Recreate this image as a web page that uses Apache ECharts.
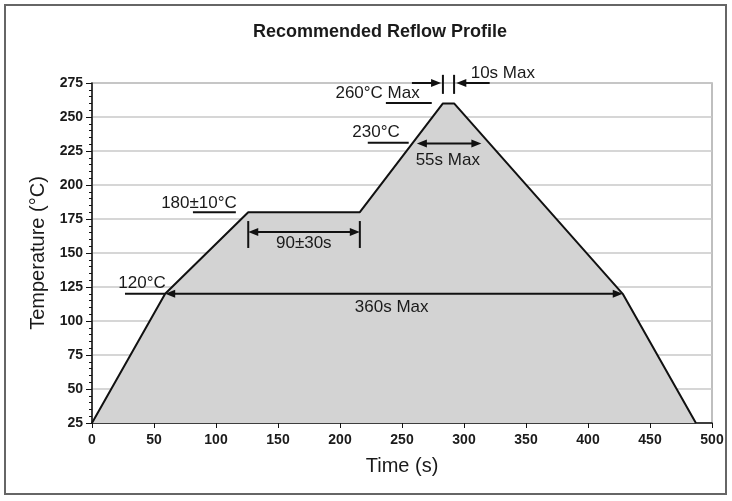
<!DOCTYPE html>
<html>
<head>
<meta charset="utf-8">
<script src="https://cdn.jsdelivr.net/npm/echarts@6/dist/echarts.min.js"></script>
<style>
html,body{margin:0;padding:0;background:#fff;}
#chart{width:732px;height:501px;}
</style>
</head>
<body>
<div id="chart"></div>
<script>
// Reflow profile (time s, temperature °C)
const times = [0, 59, 126, 216, 283, 292, 428, 487];
const temps = [25, 120, 180, 180, 260, 260, 120, 25];

// Axis ticks
const xTicks = [0, 50, 100, 150, 200, 250, 300, 350, 400, 450, 500];
const yTicks = [25, 50, 75, 100, 125, 150, 175, 200, 225, 250, 275];

// Annotation geometry in data units [t1, T1, t2, T2]
const underlines = [
  [26.6, 120, 58.8, 120],
  [81.4, 180, 116, 180],
  [222.4, 231, 255.4, 231],
  [237, 260.3, 274, 260.3]
];
const doubleArrows = [
  [59, 120, 428, 120],
  [126, 165.4, 216, 165.4],
  [262, 230.5, 314, 230.5]
];
const singleArrows = [
  [258, 275, 281.5, 275],
  [320.7, 275, 293.8, 275]
];
const bars = [
  [126, 153.7, 126, 173.5],
  [216, 153.7, 216, 173.5],
  [283, 267, 283, 281],
  [292, 267, 292, 281]
];
const labelTexts = ['120°C', '180±10°C', '90±30s', '360s Max', '230°C', '55s Max', '260°C Max', '10s Max'];
const labelT = [59.5, 116.8, 170.8, 241.7, 248.2, 286.9, 264.3, 305.4];
const labelTemp = [128, 186.8, 157.4, 110.3, 239, 218.4, 267.6, 282.4];
const labelAlign = ['right', 'right', 'center', 'center', 'right', 'center', 'right', 'left'];

const chart = echarts.init(document.getElementById('chart'));
const INK = '#111';
const FONT = '"Liberation Sans", Arial, sans-serif';

function segRender(params, api) {
  const a = api.coord([api.value(0), api.value(1)]);
  const b = api.coord([api.value(2), api.value(3)]);
  return {type: 'line', shape: {x1: a[0], y1: a[1], x2: b[0], y2: b[1]},
          style: {stroke: INK, lineWidth: 2}};
}
function head(tip, dirX, dirY) {
  const L = 10, W = 4;
  const bx = tip[0] - dirX * L, by = tip[1] - dirY * L;
  const nx = -dirY, ny = dirX;
  return {type: 'polygon', shape: {points: [tip, [bx + nx * W, by + ny * W], [bx - nx * W, by - ny * W]]},
          style: {fill: INK}};
}
function arrowRender(both) {
  return function (params, api) {
    const a = api.coord([api.value(0), api.value(1)]);
    const b = api.coord([api.value(2), api.value(3)]);
    const dx = b[0] - a[0], dy = b[1] - a[1];
    const len = Math.sqrt(dx * dx + dy * dy) || 1;
    const ux = dx / len, uy = dy / len;
    const children = [
      {type: 'line', shape: {x1: a[0] + (both ? ux * 6 : 0), y1: a[1] + (both ? uy * 6 : 0), x2: b[0] - ux * 6, y2: b[1] - uy * 6},
       style: {stroke: INK, lineWidth: 2}},
      head(b, ux, uy)
    ];
    if (both) children.push(head(a, -ux, -uy));
    return {type: 'group', children: children};
  };
}

const option = {
  backgroundColor: '#fff',
  animation: false,
  title: {
    text: 'Recommended Reflow Profile',
    left: 375, top: 18, textAlign: 'center',
    textStyle: {fontFamily: FONT, fontSize: 18, fontWeight: 'bold', color: '#1a1a1a'}
  },
  graphic: [{
    type: 'rect', shape: {x: 5, y: 5, width: 721, height: 489},
    style: {fill: 'none', stroke: '#666', lineWidth: 2}, silent: true, z: -1
  }],
  grid: {left: 92, right: 20, top: 83, bottom: 78, show: true, borderColor: '#aaa', borderWidth: 1.5, backgroundColor: 'transparent'},
  xAxis: {
    type: 'value', min: xTicks[0], max: xTicks[xTicks.length - 1], interval: 50,
    name: 'Time (s)', nameLocation: 'middle', nameGap: 33,
    nameTextStyle: {fontFamily: FONT, fontSize: 20, color: '#1a1a1a'},
    axisLine: {show: true, lineStyle: {color: INK, width: 1.5}},
    axisTick: {show: true, length: 5, lineStyle: {color: INK}},
    splitLine: {show: false},
    axisLabel: {fontFamily: FONT, fontSize: 14, fontWeight: 'bold', color: '#1a1a1a', margin: 10}
  },
  yAxis: {
    type: 'value', min: yTicks[0], max: yTicks[yTicks.length - 1], interval: 25,
    name: 'Temperature (°C)', nameLocation: 'middle', nameGap: 44, nameRotate: 90,
    nameTextStyle: {fontFamily: FONT, fontSize: 20, color: '#1a1a1a'},
    axisLine: {show: true, lineStyle: {color: INK, width: 1.5}},
    axisTick: {show: true, length: 6, lineStyle: {color: INK}},
    minorTick: {show: true, splitNumber: 5, length: 3, lineStyle: {color: INK}},
    splitLine: {show: true, lineStyle: {color: '#c8c8c8', width: 1.5}},
    axisLabel: {fontFamily: FONT, fontSize: 14, fontWeight: 'bold', color: '#1a1a1a', margin: 9}
  },
  series: [
    {
      type: 'line', data: times.map((t, i) => [t, temps[i]]),
      symbol: 'none', lineStyle: {color: INK, width: 2},
      areaStyle: {color: '#d3d3d3', opacity: 1, origin: 'start'}, z: 2
    },
    {type: 'custom', data: underlines, renderItem: segRender, clip: false, z: 5, silent: true},
    {type: 'custom', data: bars, renderItem: segRender, clip: false, z: 5, silent: true},
    {type: 'custom', data: doubleArrows, renderItem: arrowRender(true), clip: false, z: 5, silent: true},
    {type: 'custom', data: singleArrows, renderItem: arrowRender(false), clip: false, z: 5, silent: true},
    {
      type: 'custom', data: labelTexts.map((s, i) => [labelT[i], labelTemp[i], i]), clip: false, z: 6, silent: true,
      renderItem: function (params, api) {
        const p = api.coord([api.value(0), api.value(1)]);
        const i = api.value(2);
        return {type: 'text', x: p[0], y: p[1],
                style: {text: labelTexts[i], fontFamily: FONT, fontSize: 17, fill: '#1a1a1a',
                        align: labelAlign[i], verticalAlign: 'middle'}};
      }
    }
  ]
};
chart.setOption(option);
</script>
</body>
</html>
